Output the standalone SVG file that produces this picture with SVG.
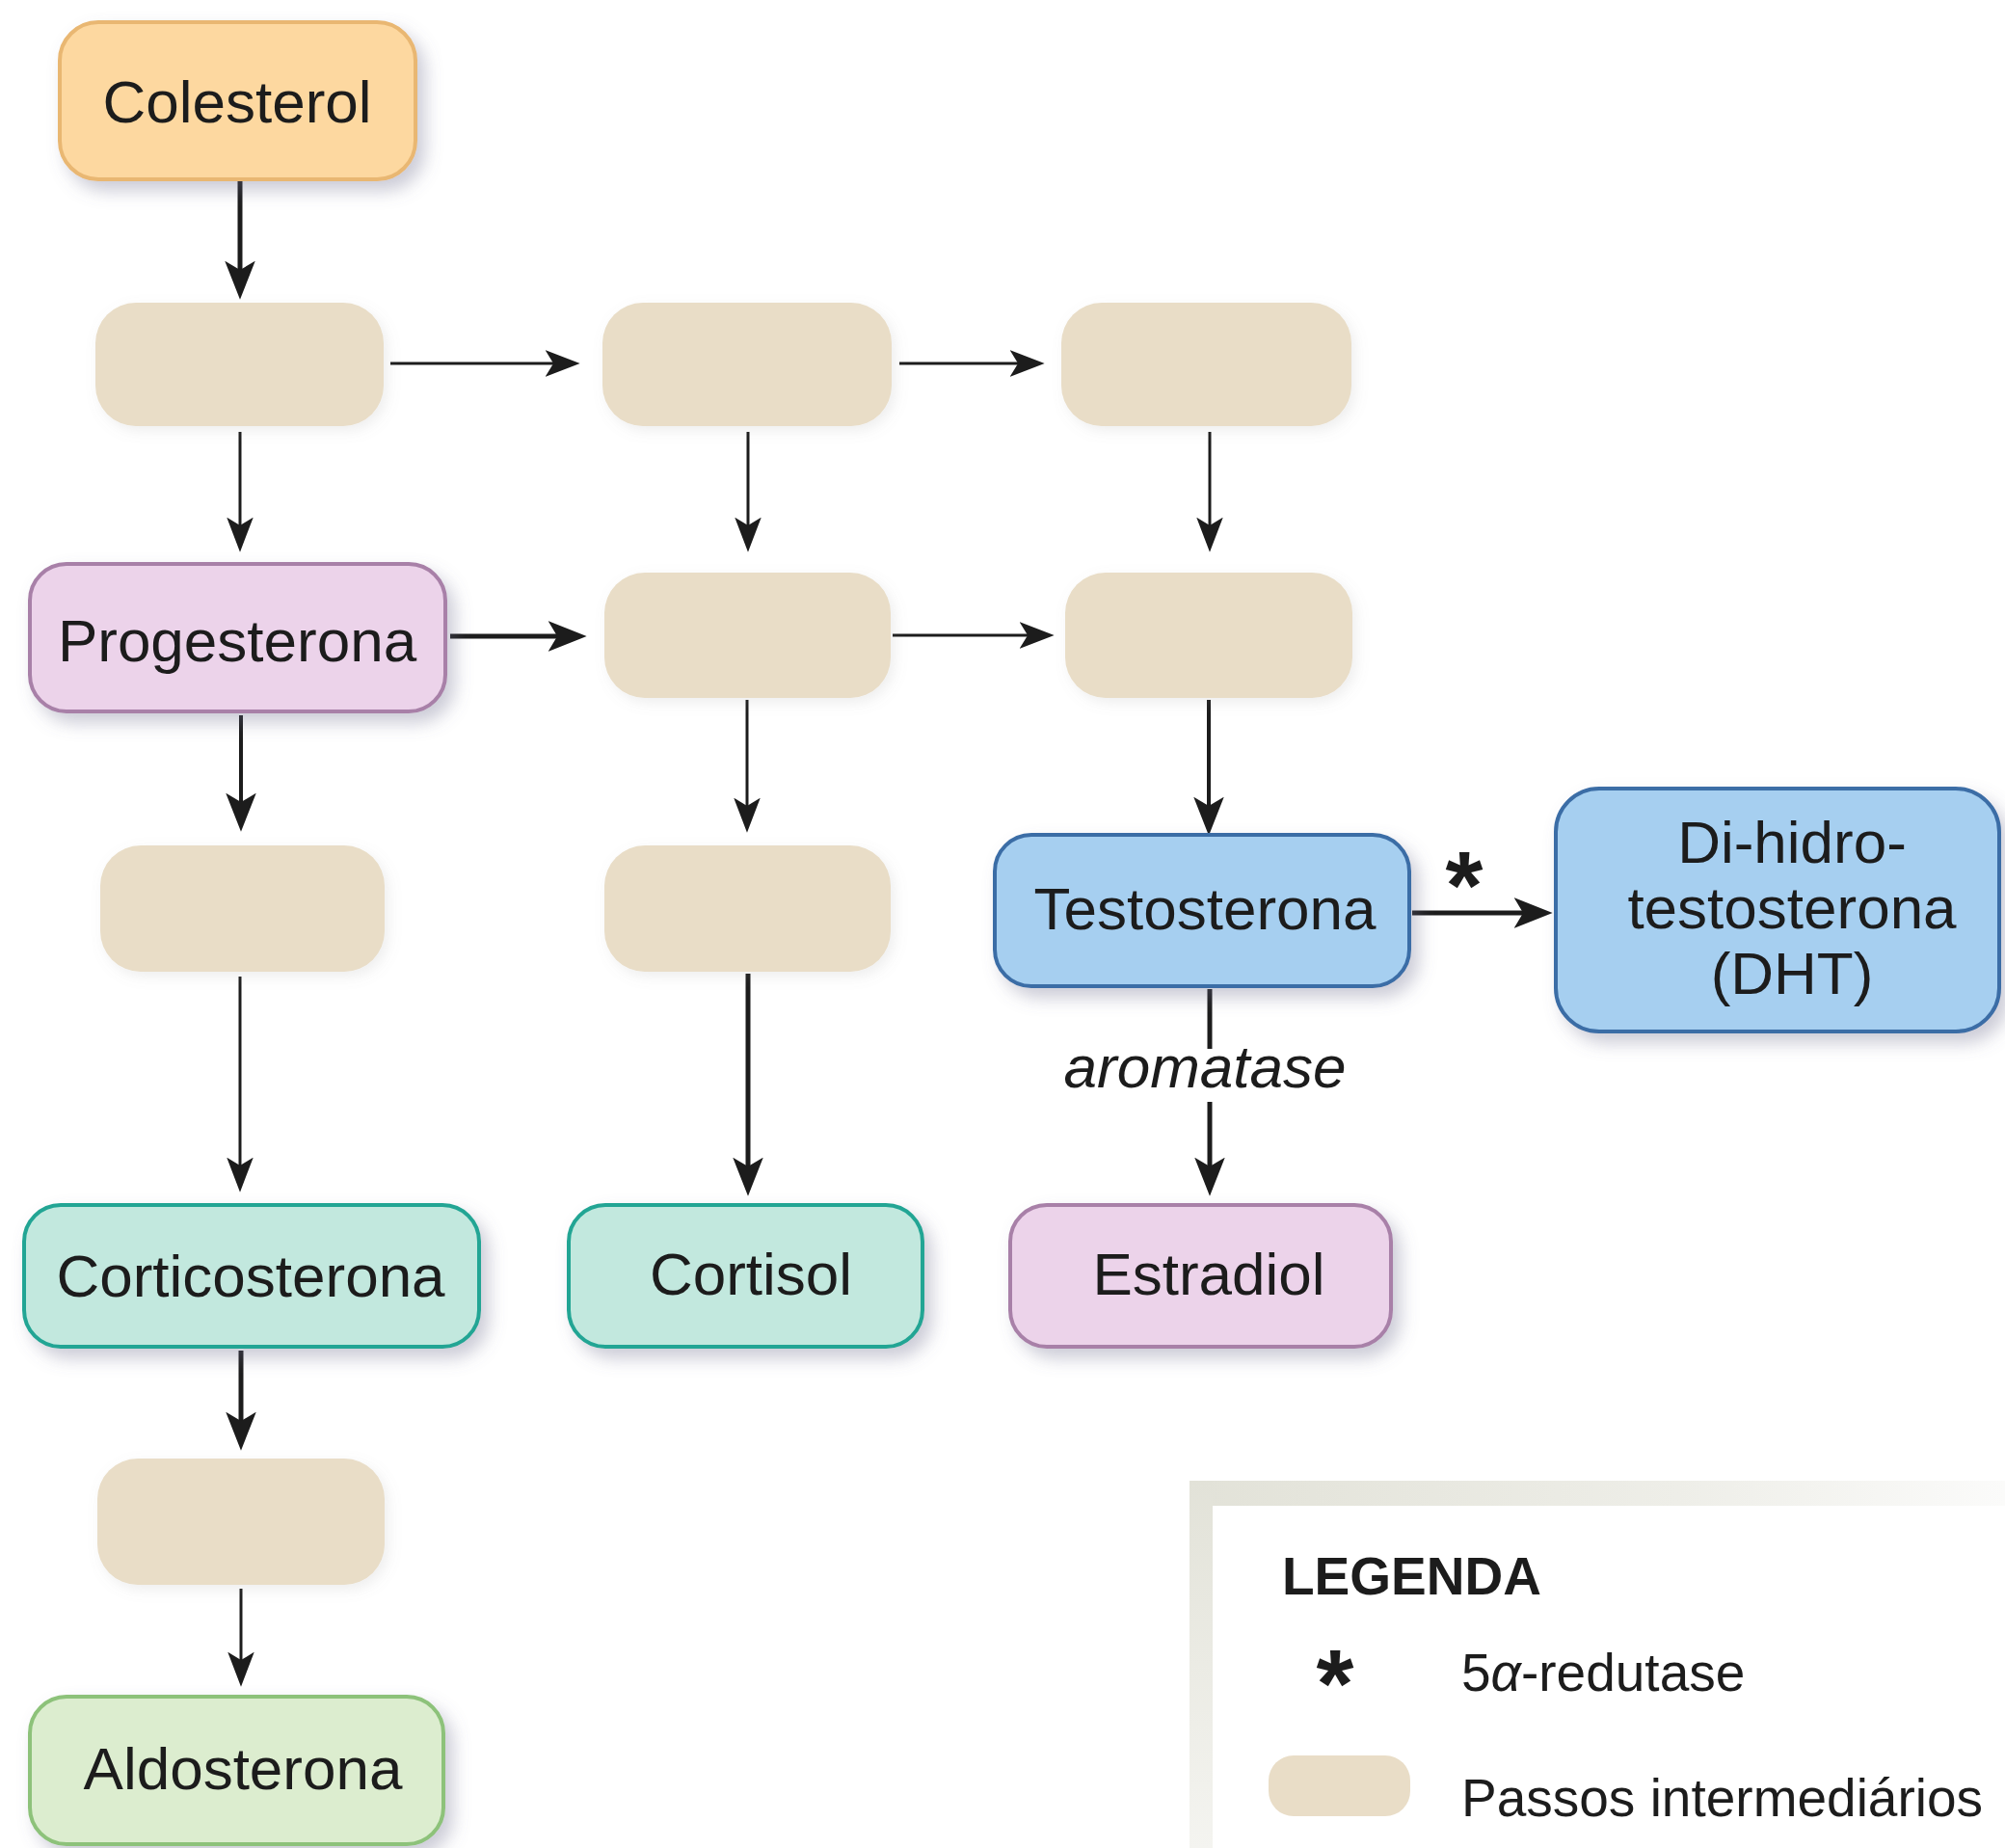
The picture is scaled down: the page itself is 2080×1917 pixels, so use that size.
<svg xmlns="http://www.w3.org/2000/svg" width="2080" height="1917" viewBox="0 0 2080 1917">
<style>
.lbl{font-family:"Liberation Sans",Arial,Helvetica,sans-serif;font-size:62px;fill:#1c1c1c;text-anchor:middle}
.inter{fill:#e9ddc7}
.node{stroke-width:4}
.orange{fill:#fdd8a0;stroke:#e9b772}
.pink{fill:#ecd3ea;stroke:#a880a8}
.blue{fill:#a6cff0;stroke:#3b6da6}
.teal{fill:#c2e8de;stroke:#22a594}
.green{fill:#dcedcf;stroke:#8dc27a}
.thin{stroke:#1c1c1c;stroke-width:3;fill:none;marker-end:url(#hs)}
.thick{stroke:#1c1c1c;stroke-width:5;fill:none;marker-end:url(#hb)}
.plain{stroke:#1c1c1c;stroke-width:5;fill:none}
.leg{font-family:"Liberation Sans",Arial,Helvetica,sans-serif;fill:#1c1c1c}
</style>
<defs>
<filter id="sh" x="-20%" y="-20%" width="150%" height="160%">
<feDropShadow dx="8" dy="10" stdDeviation="9" flood-color="#6a6a8a" flood-opacity="0.35"/>
</filter>
<filter id="shl" x="-20%" y="-20%" width="150%" height="160%">
<feDropShadow dx="4" dy="5" stdDeviation="7" flood-color="#8a8a8a" flood-opacity="0.15"/>
</filter>
<marker id="hb" markerUnits="userSpaceOnUse" markerWidth="40" markerHeight="32" viewBox="0 0 38 30" refX="26" refY="15" orient="auto">
<path d="M0,0 L38,15 L0,30 L9,15 z" fill="#1c1c1c"/>
</marker>
<marker id="hs" markerUnits="userSpaceOnUse" markerWidth="36" markerHeight="28" viewBox="0 0 34 26" refX="23" refY="13" orient="auto">
<path d="M0,0 L34,13 L0,26 L8,13 z" fill="#1c1c1c"/>
</marker>
<linearGradient id="gtop" x1="0" y1="0" x2="1" y2="0">
<stop offset="0" stop-color="#e2e2d8"/>
<stop offset="0.6" stop-color="#eeeee8"/>
<stop offset="1" stop-color="#fbfbfa"/>
</linearGradient>
<linearGradient id="gleft" x1="0" y1="0" x2="0" y2="1">
<stop offset="0" stop-color="#e2e2d8"/>
<stop offset="1" stop-color="#f4f4f0"/>
</linearGradient>
</defs>
<rect width="2080" height="1917" fill="#ffffff"/>

<g id="connectors">
<line class="thick" x1="249" y1="188" x2="249" y2="298"/>
<line class="thin" x1="405" y1="377" x2="590" y2="377"/>
<line class="thin" x1="933" y1="377" x2="1072" y2="377"/>
<line class="thin" x1="249" y1="448" x2="249" y2="561"/>
<line class="thin" x1="776" y1="448" x2="776" y2="561"/>
<line class="thin" x1="1255" y1="448" x2="1255" y2="561"/>
<line class="thick" x1="467" y1="660" x2="596" y2="660"/>
<line class="thin" x1="926" y1="659" x2="1082" y2="659"/>
<line class="thick" x1="250" y1="742" x2="250" y2="850" style="stroke-width:4"/>
<line class="thin" x1="775" y1="726" x2="775" y2="852"/>
<line class="thick" x1="1254" y1="726" x2="1254" y2="854" style="stroke-width:4"/>
<line class="thick" x1="1465" y1="947" x2="1598" y2="947"/>
<line class="thin" x1="249" y1="1013" x2="249" y2="1225"/>
<line class="thick" x1="776" y1="1010" x2="776" y2="1228"/>
<line class="plain" x1="1255" y1="1026" x2="1255" y2="1088"/>
<line class="thick" x1="1255" y1="1143" x2="1255" y2="1228"/>
<line class="thick" x1="250" y1="1401" x2="250" y2="1492"/>
<line class="thin" x1="250" y1="1648" x2="250" y2="1738"/>
<text class="lbl" x="1250" y="1128" font-style="italic">aromatase</text>
<text class="leg" x="1519" y="953" font-size="100" font-weight="bold" text-anchor="middle">*</text>
</g>

<g id="colesterol"><rect class="node orange" x="62" y="23" width="369" height="163" rx="40" filter="url(#sh)"/><text class="lbl" x="246" y="127">Colesterol</text></g>
<g id="step1"><rect class="inter" x="99" y="314" width="299" height="128" rx="42" filter="url(#shl)"/></g>
<g id="step2"><rect class="inter" x="625" y="314" width="300" height="128" rx="42" filter="url(#shl)"/></g>
<g id="step3"><rect class="inter" x="1101" y="314" width="301" height="128" rx="42" filter="url(#shl)"/></g>
<g id="progesterona"><rect class="node pink" x="31" y="585" width="431" height="153" rx="38" filter="url(#sh)"/><text class="lbl" x="246" y="686">Progesterona</text></g>
<g id="step4"><rect class="inter" x="627" y="594" width="297" height="130" rx="42" filter="url(#shl)"/></g>
<g id="step5"><rect class="inter" x="1105" y="594" width="298" height="130" rx="42" filter="url(#shl)"/></g>
<g id="step6"><rect class="inter" x="104" y="877" width="295" height="131" rx="42" filter="url(#shl)"/></g>
<g id="step7"><rect class="inter" x="627" y="877" width="297" height="131" rx="42" filter="url(#shl)"/></g>
<g id="testosterona"><rect class="node blue" x="1032" y="866" width="430" height="157" rx="38" filter="url(#sh)"/><text class="lbl" x="1250" y="964">Testosterona</text></g>
<g id="dht"><rect class="node blue" x="1614" y="818" width="460" height="252" rx="45" filter="url(#sh)"/><text class="lbl" x="1859" y="895">Di-hidro-</text><text class="lbl" x="1859" y="963">testosterona</text><text class="lbl" x="1859" y="1031">(DHT)</text></g>
<g id="corticosterona"><rect class="node teal" x="25" y="1250" width="472" height="147" rx="38" filter="url(#sh)"/><text class="lbl" x="260" y="1345">Corticosterona</text></g>
<g id="cortisol"><rect class="node teal" x="590" y="1250" width="367" height="147" rx="38" filter="url(#sh)"/><text class="lbl" x="779" y="1343">Cortisol</text></g>
<g id="estradiol"><rect class="node pink" x="1048" y="1250" width="395" height="147" rx="38" filter="url(#sh)"/><text class="lbl" x="1254" y="1343">Estradiol</text></g>
<g id="step8"><rect class="inter" x="101" y="1513" width="298" height="131" rx="42" filter="url(#shl)"/></g>
<g id="aldosterona"><rect class="node green" x="31" y="1760" width="429" height="153" rx="38" filter="url(#sh)"/><text class="lbl" x="252" y="1856">Aldosterona</text></g>

<g id="legend">
<rect x="1234" y="1536" width="846" height="26" fill="url(#gtop)"/>
<rect x="1234" y="1536" width="24" height="381" fill="url(#gleft)"/>
<text class="leg" x="1330" y="1654" font-size="55" font-weight="bold">LEGENDA</text>
<text class="leg" x="1385" y="1781" font-size="100" font-weight="bold" text-anchor="middle">*</text>
<text class="leg" x="1516" y="1754" font-size="55">5<tspan font-style="italic">α</tspan>-redutase</text>
<rect class="inter" x="1316" y="1821" width="147" height="63" rx="26"/>
<text class="leg" x="1516" y="1884" font-size="55">Passos intermediários</text>
</g>
</svg>
